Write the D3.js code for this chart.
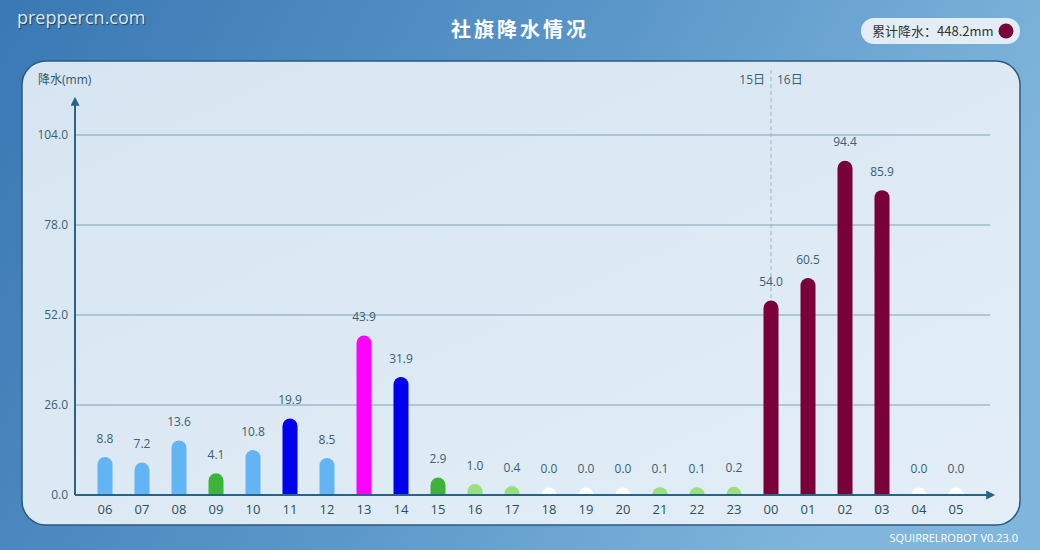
<!DOCTYPE html>
<html>
<head>
<meta charset="utf-8">
<script src="https://cdn.jsdelivr.net/npm/d3@7"></script>
<style>
  body{margin:0;padding:0;overflow:hidden;}
  svg{display:block;font-family:"Open Sans","Noto Sans CJK SC",sans-serif;}
</style>
</head>
<body>
<div id="chart"></div>
<script>
let hours = ["06","07","08","09","10","11","12","13","14","15","16","17","18","19","20","21","22","23","00","01","02","03","04","05"]
let rain = [8.8,7.2,13.6,4.1,10.8,19.9,8.5,43.9,31.9,2.9,1.0,0.4,0.0,0.0,0.0,0.1,0.1,0.2,54.0,60.5,94.4,85.9,0.0,0.0]
let yTicks = [0,26,52,78,104]
let total = "448.2"

function render(){
  let width = 1040, height = 550,
      x0 = 75, yBase = 495

  let svg = d3.select("#chart").append("svg").attr("width",width).attr("height",height)
  let defs = svg.append("defs")

  let bg = defs.append("linearGradient").attr("id","bg").attr("x1","0").attr("y1","0").attr("x2","1").attr("y2","0.3")
  bg.append("stop").attr("offset","0").attr("stop-color","#3a78b4")
  bg.append("stop").attr("offset","0.55").attr("stop-color","#5a96c8")
  bg.append("stop").attr("offset","1").attr("stop-color","#80b6dc")
  let pn = defs.append("linearGradient").attr("id","pn").attr("x1","0").attr("y1","0").attr("x2","1").attr("y2","1")
  pn.append("stop").attr("offset","0").attr("stop-color","#d6e5f1")
  pn.append("stop").attr("offset","1").attr("stop-color","#e3eef7")
  defs.append("clipPath").attr("id","plot").append("rect").attr("x",x0).attr("y",60).attr("width",930).attr("height",yBase-60)
  defs.append("marker").attr("id","arrow").attr("viewBox","0 0 10 10").attr("refX",2).attr("refY",5)
    .attr("markerUnits","userSpaceOnUse").attr("markerWidth",10).attr("markerHeight",9).attr("orient","auto")
    .append("path").attr("d","M0,0 L10,5 L0,10 z").attr("fill","#2a6482")

  svg.append("rect").attr("width",width).attr("height",height).attr("fill","url(#bg)")
  svg.append("rect").attr("x",22).attr("y",61).attr("width",998).attr("height",464).attr("rx",24)
    .attr("fill","url(#pn)").attr("stroke","#2b5a80").attr("stroke-width",1.5)

  let xScale = d3.scalePoint().domain(hours).range([105,956])
  let yScale = d3.scaleLinear().domain([0,104]).range([yBase,135])
  let color = d3.scaleThreshold()
    .domain([0.05,2,5,15,40,50])
    .range(["#ffffff","#98e07e","#3cb43c","#62b4f4","#0000ee","#ff00ff","#7a003a"])

  // grid
  svg.append("g").selectAll("line").data(yTicks.slice(1)).enter().append("line")
    .attr("x1",x0).attr("x2",990).attr("y1",d=>yScale(d)).attr("y2",d=>yScale(d))
    .attr("stroke","#7fa3b6").attr("stroke-width",1)
  svg.append("g").selectAll("text").data(yTicks).enter().append("text")
    .attr("x",68).attr("y",d=>yScale(d)+4).attr("text-anchor","end")
    .attr("font-size",12).attr("fill","#3a5f74").text(d=>d.toFixed(1))

  // day divider
  let xd = xScale("00")
  svg.append("line").attr("x1",xd).attr("x2",xd).attr("y1",70).attr("y2",yBase)
    .attr("stroke","#9ab4c4").attr("stroke-dasharray","4,3").attr("stroke-width",1)
  svg.append("text").attr("x",xd-6).attr("y",84).attr("text-anchor","end").attr("font-size",12).attr("fill","#3a5f74").text("15日")
  svg.append("text").attr("x",xd+6).attr("y",84).attr("font-size",12).attr("fill","#3a5f74").text("16日")

  // bars
  svg.append("g").attr("clip-path","url(#plot)").selectAll("line").data(rain).enter().append("line")
    .attr("x1",(d,i)=>xScale(hours[i])).attr("x2",(d,i)=>xScale(hours[i]))
    .attr("y1",yBase).attr("y2",d=>yScale(d))
    .attr("stroke",d=>color(d)).attr("stroke-width",15).attr("stroke-linecap","round")

  svg.append("g").selectAll("text").data(rain).enter().append("text")
    .attr("x",(d,i)=>xScale(hours[i])).attr("y",d=>yScale(d)-22)
    .attr("text-anchor","middle").attr("font-size",12).attr("fill","#3a5f74").text(d=>d.toFixed(1))

  // axes
  svg.append("line").attr("x1",x0).attr("x2",x0).attr("y1",yBase).attr("y2",104)
    .attr("stroke","#2a6482").attr("stroke-width",2).attr("marker-end","url(#arrow)")
  svg.append("line").attr("x1",x0).attr("x2",988).attr("y1",yBase).attr("y2",yBase)
    .attr("stroke","#2a6482").attr("stroke-width",2).attr("marker-end","url(#arrow)")
  svg.append("g").selectAll("text").data(hours).enter().append("text")
    .attr("x",d=>xScale(d)).attr("y",514).attr("text-anchor","middle")
    .attr("font-size",13).attr("fill","#2e4d60").text(d=>d)

  svg.append("text").attr("x",38).attr("y",84).attr("font-size",12).attr("fill","#2f5870").text("降水(mm)")

  // title, legend, marks
  svg.append("text").attr("x",520).attr("y",37).attr("text-anchor","middle").attr("font-size",20)
    .attr("font-family","'Noto Sans CJK SC'").attr("font-weight","bold").attr("letter-spacing",3)
    .attr("fill","#ffffff").text("社旗降水情况")

  svg.append("rect").attr("x",861).attr("y",18).attr("width",159).attr("height",26).attr("rx",13).attr("fill","#e2edf6")
  svg.append("text").attr("x",872).attr("y",36).attr("font-size",13).attr("fill","#333")
    .attr("font-family","'Noto Sans CJK SC',sans-serif").text("累计降水：" + total + "mm")
  svg.append("circle").attr("cx",1006).attr("cy",31).attr("r",7.5).attr("fill","#7a003a")

  svg.append("text").attr("x",17).attr("y",24).attr("font-size",18).attr("fill","#dbe8f4")
    .attr("style","text-shadow:1px 1px 1px rgba(0,0,0,0.5)").text("preppercn.com")
  svg.append("text").attr("x",1018).attr("y",542).attr("text-anchor","end").attr("font-size",11)
    .attr("fill","#ffffff").text("SQUIRRELROBOT V0.23.0")
}

render()
</script>
</body>
</html>
